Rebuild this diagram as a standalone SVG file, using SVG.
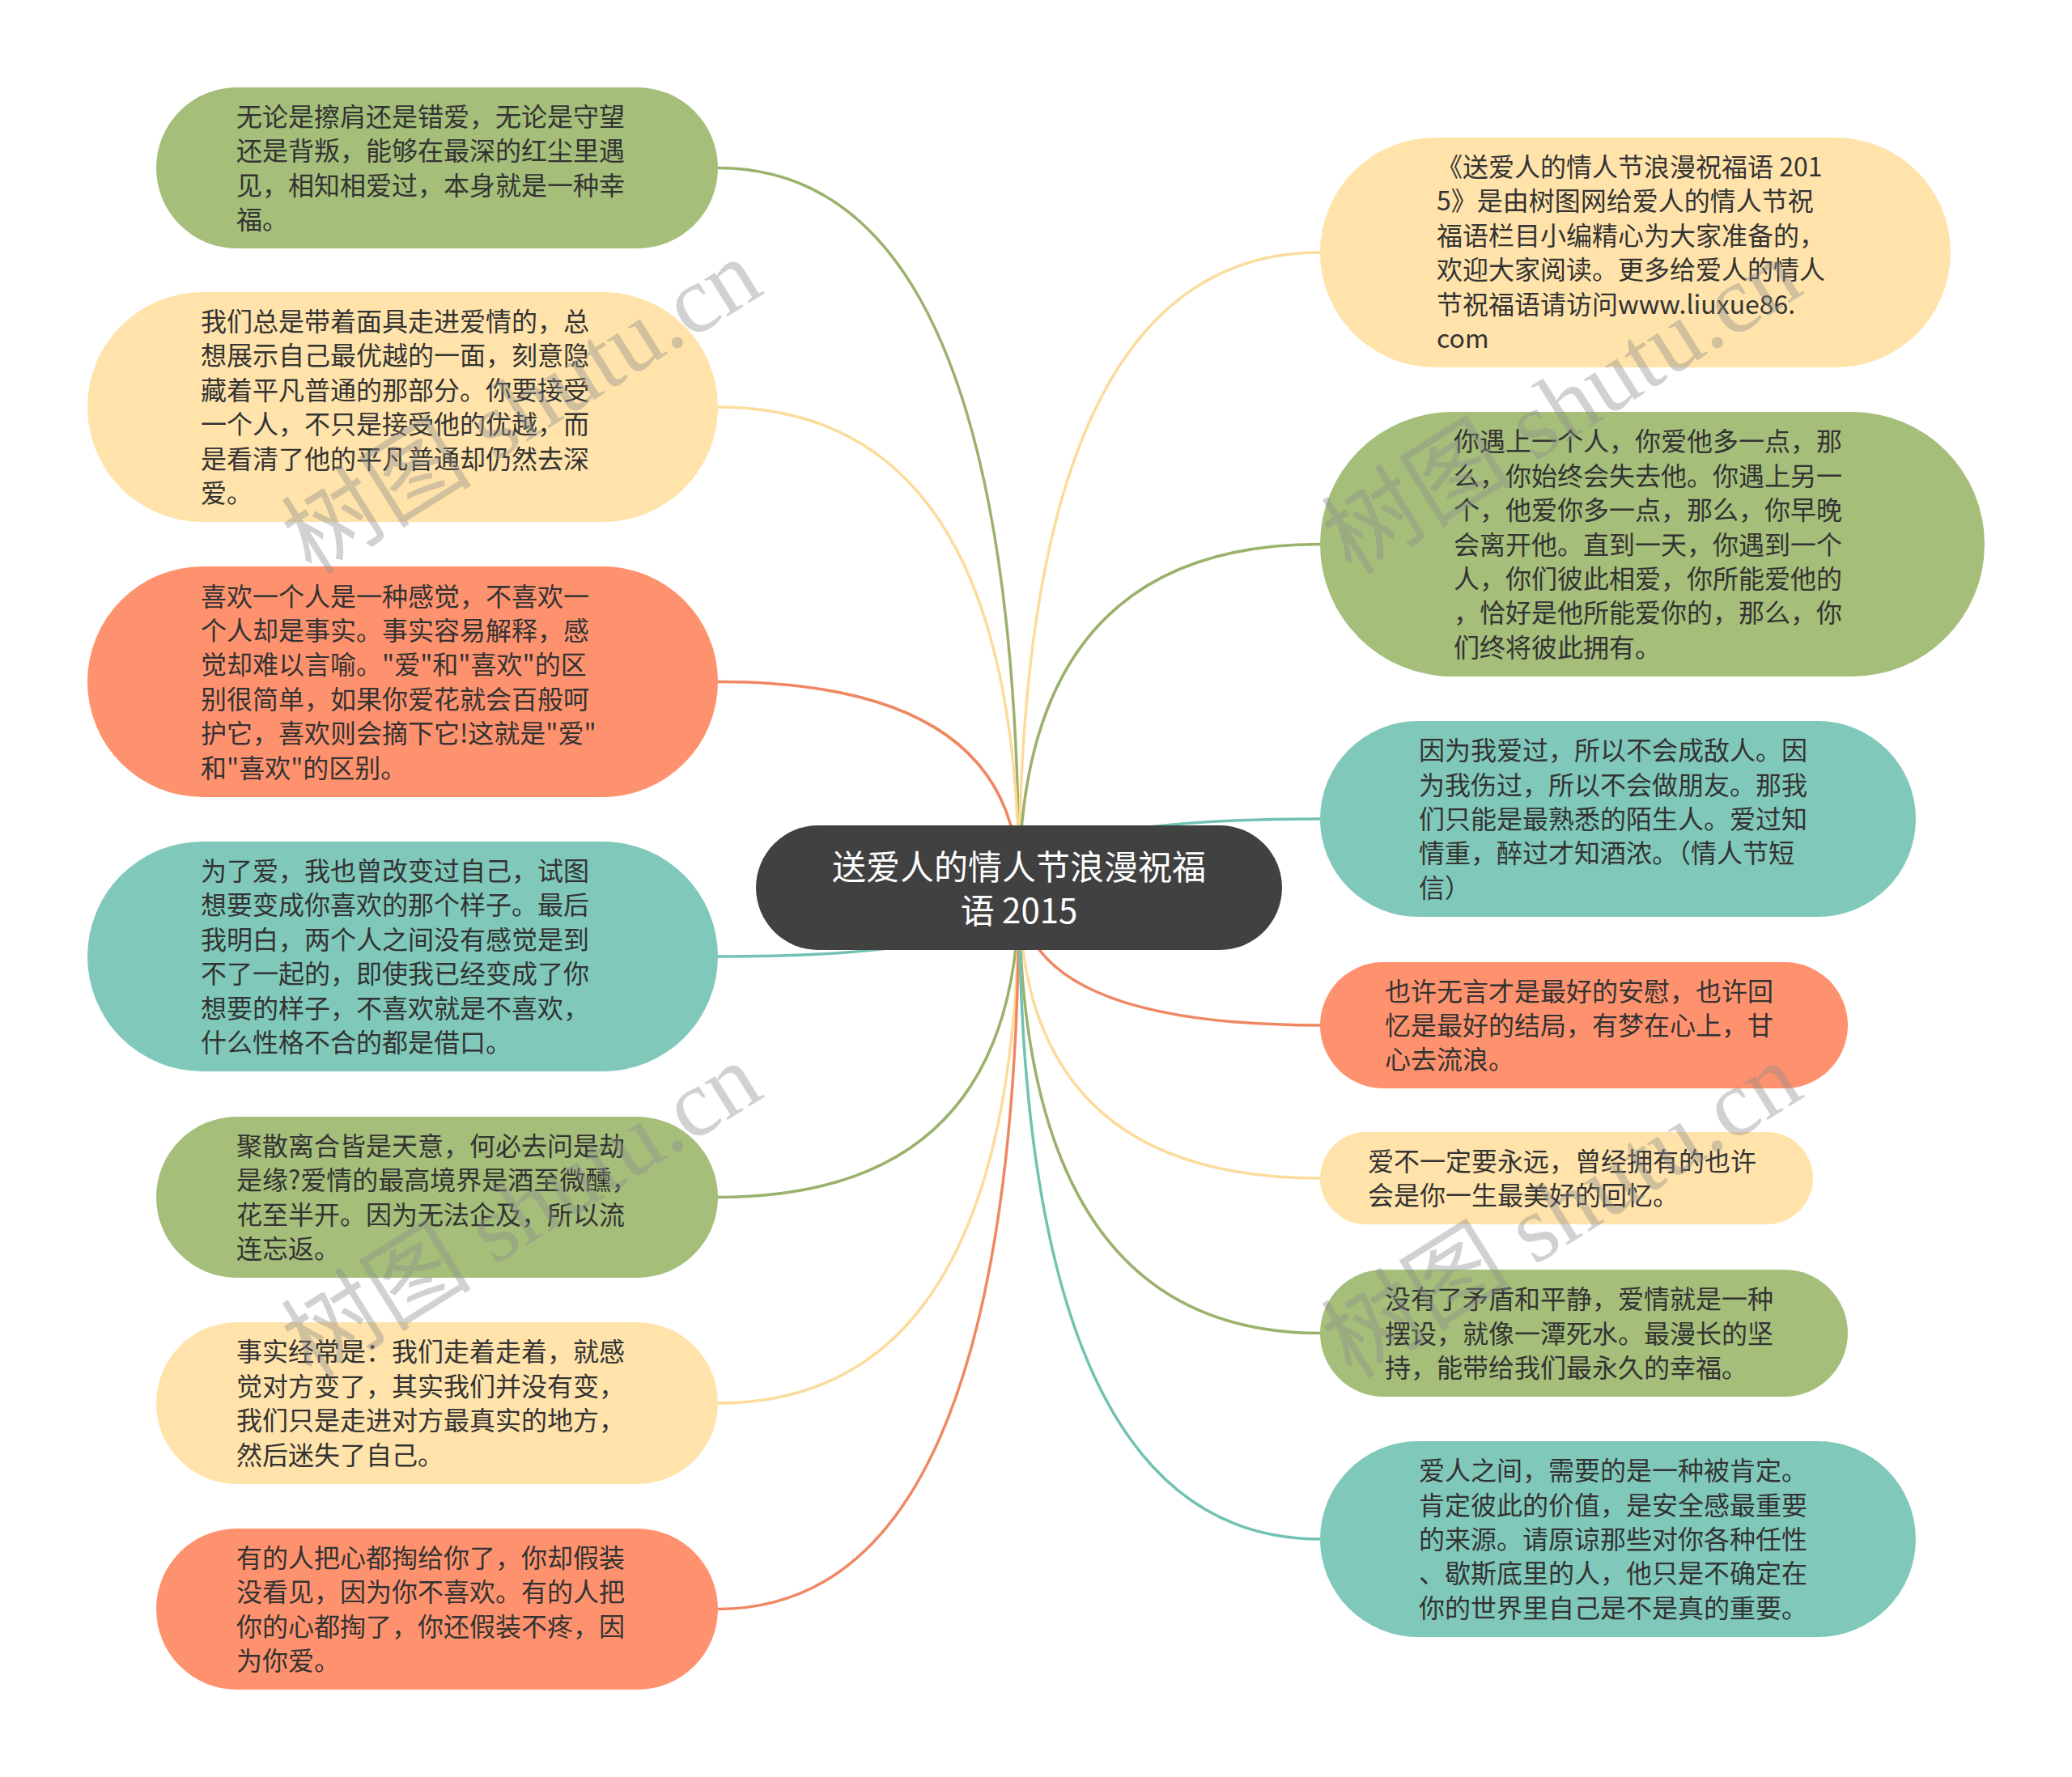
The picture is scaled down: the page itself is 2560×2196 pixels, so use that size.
<svg xmlns="http://www.w3.org/2000/svg" width="2560" height="2196" viewBox="0 0 2560 2196">
<style>
.t{font-family:"Noto Sans CJK SC","Noto Sans",sans-serif;font-size:32px;fill:#333333}
.ct{font-family:"Noto Sans CJK SC","Noto Sans",sans-serif;font-size:42px;fill:#ffffff}
.c{fill:none;stroke-width:3.5;stroke-linecap:round}
.g{fill:#A5BE7A}.y{fill:#FFE3AA}.s{fill:#FF926E}.q{fill:#80C9BA}
.cg{stroke:#9AB26C}.cy{stroke:#FBDC9C}.cs{stroke:#EF8862}.cq{stroke:#72C2B3}
.wm{font-family:"Liberation Serif","Noto Sans CJK SC",serif;font-size:118px;fill:#8c8c8c;fill-opacity:0.4}
</style>
<rect width="2560" height="2196" fill="#ffffff"/>
<g id="connectors">
<path class="c cg" d="M1259 1097 Q1259 207.5 887 207.5"/>
<path class="c cy" d="M1259 1097 Q1259 503 887 503"/>
<path class="c cs" d="M1259 1097 Q1259 842.5 887 842.5"/>
<path class="c cq" d="M1259 1097 Q1259 1182 887 1182"/>
<path class="c cg" d="M1259 1097 Q1259 1479.5 887 1479.5"/>
<path class="c cy" d="M1259 1097 Q1259 1734 887 1734"/>
<path class="c cs" d="M1259 1097 Q1259 1988.5 887 1988.5"/>
<path class="c cy" d="M1259 1097 Q1259 312 1631 312"/>
<path class="c cg" d="M1259 1097 Q1259 672.5 1631 672.5"/>
<path class="c cq" d="M1259 1097 Q1259 1012 1631 1012"/>
<path class="c cs" d="M1259 1097 Q1259 1267 1631 1267"/>
<path class="c cy" d="M1259 1097 Q1259 1456 1631 1456"/>
<path class="c cg" d="M1259 1097 Q1259 1647.5 1631 1647.5"/>
<path class="c cq" d="M1259 1097 Q1259 1902 1631 1902"/>
</g>
<g id="center">
<rect x="934" y="1020" width="650" height="154" rx="77" fill="#414141"/>
<text class="ct" text-anchor="middle"><tspan x="1259" y="1087">送爱人的情人节浪漫祝福</tspan><tspan x="1259" y="1141">语 2015</tspan></text>
</g>
<g id="L1">
<rect class="g" x="193" y="108" width="694" height="199" rx="99.5"/>
<text class="t"><tspan x="292" y="156">无论是擦肩还是错爱，无论是守望</tspan><tspan x="292" dy="42.4">还是背叛，能够在最深的红尘里遇</tspan><tspan x="292" dy="42.4">见，相知相爱过，本身就是一种幸</tspan><tspan x="292" dy="42.4">福。</tspan></text>
</g>
<g id="L2">
<rect class="y" x="108" y="361" width="779" height="284" rx="142"/>
<text class="t"><tspan x="248" y="409">我们总是带着面具走进爱情的，总</tspan><tspan x="248" dy="42.4">想展示自己最优越的一面，刻意隐</tspan><tspan x="248" dy="42.4">藏着平凡普通的那部分。你要接受</tspan><tspan x="248" dy="42.4">一个人，不只是接受他的优越，而</tspan><tspan x="248" dy="42.4">是看清了他的平凡普通却仍然去深</tspan><tspan x="248" dy="42.4">爱。</tspan></text>
</g>
<g id="L3">
<rect class="s" x="108" y="700" width="779" height="285" rx="142.5"/>
<text class="t"><tspan x="248" y="748.5">喜欢一个人是一种感觉，不喜欢一</tspan><tspan x="248" dy="42.4">个人却是事实。事实容易解释，感</tspan><tspan x="248" dy="42.4">觉却难以言喻。"爱"和"喜欢"的区</tspan><tspan x="248" dy="42.4">别很简单，如果你爱花就会百般呵</tspan><tspan x="248" dy="42.4">护它，喜欢则会摘下它!这就是"爱"</tspan><tspan x="248" dy="42.4">和"喜欢"的区别。</tspan></text>
</g>
<g id="L4">
<rect class="q" x="108" y="1040" width="779" height="284" rx="142"/>
<text class="t"><tspan x="248" y="1088">为了爱，我也曾改变过自己，试图</tspan><tspan x="248" dy="42.4">想要变成你喜欢的那个样子。最后</tspan><tspan x="248" dy="42.4">我明白，两个人之间没有感觉是到</tspan><tspan x="248" dy="42.4">不了一起的，即使我已经变成了你</tspan><tspan x="248" dy="42.4">想要的样子，不喜欢就是不喜欢，</tspan><tspan x="248" dy="42.4">什么性格不合的都是借口。</tspan></text>
</g>
<g id="L5">
<rect class="g" x="193" y="1380" width="694" height="199" rx="99.5"/>
<text class="t"><tspan x="292" y="1428">聚散离合皆是天意，何必去问是劫</tspan><tspan x="292" dy="42.4">是缘?爱情的最高境界是酒至微醺，</tspan><tspan x="292" dy="42.4">花至半开。因为无法企及，所以流</tspan><tspan x="292" dy="42.4">连忘返。</tspan></text>
</g>
<g id="L6">
<rect class="y" x="193" y="1634" width="694" height="200" rx="100"/>
<text class="t"><tspan x="292" y="1682.4">事实经常是：我们走着走着，就感</tspan><tspan x="292" dy="42.4">觉对方变了，其实我们并没有变，</tspan><tspan x="292" dy="42.4">我们只是走进对方最真实的地方，</tspan><tspan x="292" dy="42.4">然后迷失了自己。</tspan></text>
</g>
<g id="L7">
<rect class="s" x="193" y="1889" width="694" height="199" rx="99.5"/>
<text class="t"><tspan x="292" y="1937">有的人把心都掏给你了，你却假装</tspan><tspan x="292" dy="42.4">没看见，因为你不喜欢。有的人把</tspan><tspan x="292" dy="42.4">你的心都掏了，你还假装不疼，因</tspan><tspan x="292" dy="42.4">为你爱。</tspan></text>
</g>
<g id="R1">
<rect class="y" x="1631" y="170" width="779" height="284" rx="142"/>
<text class="t"><tspan x="1775" y="218">《送爱人的情人节浪漫祝福语 201</tspan><tspan x="1775" dy="42.4">5》是由树图网给爱人的情人节祝</tspan><tspan x="1775" dy="42.4">福语栏目小编精心为大家准备的，</tspan><tspan x="1775" dy="42.4">欢迎大家阅读。更多给爱人的情人</tspan><tspan x="1775" dy="42.4">节祝福语请访问www.liuxue86.</tspan><tspan x="1775" dy="42.4">com</tspan></text>
</g>
<g id="R2">
<rect class="g" x="1631" y="509" width="821" height="327" rx="163.5"/>
<text class="t"><tspan x="1796" y="557.3">你遇上一个人，你爱他多一点，那</tspan><tspan x="1796" dy="42.4">么，你始终会失去他。你遇上另一</tspan><tspan x="1796" dy="42.4">个，他爱你多一点，那么，你早晚</tspan><tspan x="1796" dy="42.4">会离开他。直到一天，你遇到一个</tspan><tspan x="1796" dy="42.4">人，你们彼此相爱，你所能爱他的</tspan><tspan x="1796" dy="42.4">，恰好是他所能爱你的，那么，你</tspan><tspan x="1796" dy="42.4">们终将彼此拥有。</tspan></text>
</g>
<g id="R3">
<rect class="q" x="1631" y="891" width="736" height="242" rx="121"/>
<text class="t"><tspan x="1753" y="939.2">因为我爱过，所以不会成敌人。因</tspan><tspan x="1753" dy="42.4">为我伤过，所以不会做朋友。那我</tspan><tspan x="1753" dy="42.4">们只能是最熟悉的陌生人。爱过知</tspan><tspan x="1753" dy="42.4">情重，醉过才知酒浓。（情人节短</tspan><tspan x="1753" dy="42.4">信）</tspan></text>
</g>
<g id="R4">
<rect class="s" x="1631" y="1189" width="652" height="156" rx="78"/>
<text class="t"><tspan x="1711" y="1236.6">也许无言才是最好的安慰，也许回</tspan><tspan x="1711" dy="42.4">忆是最好的结局，有梦在心上，甘</tspan><tspan x="1711" dy="42.4">心去流浪。</tspan></text>
</g>
<g id="R5">
<rect class="y" x="1631" y="1399" width="609" height="114" rx="57"/>
<text class="t"><tspan x="1690" y="1446.8">爱不一定要永远，曾经拥有的也许</tspan><tspan x="1690" dy="42.4">会是你一生最美好的回忆。</tspan></text>
</g>
<g id="R6">
<rect class="g" x="1631" y="1569" width="652" height="157" rx="78.5"/>
<text class="t"><tspan x="1711" y="1617.1">没有了矛盾和平静，爱情就是一种</tspan><tspan x="1711" dy="42.4">摆设，就像一潭死水。最漫长的坚</tspan><tspan x="1711" dy="42.4">持，能带给我们最永久的幸福。</tspan></text>
</g>
<g id="R7">
<rect class="q" x="1631" y="1781" width="736" height="242" rx="121"/>
<text class="t"><tspan x="1753" y="1829.2">爱人之间，需要的是一种被肯定。</tspan><tspan x="1753" dy="42.4">肯定彼此的价值，是安全感最重要</tspan><tspan x="1753" dy="42.4">的来源。请原谅那些对你各种任性</tspan><tspan x="1753" dy="42.4">、歇斯底里的人，他只是不确定在</tspan><tspan x="1753" dy="42.4">你的世界里自己是不是真的重要。</tspan></text>
</g>
<g id="watermark">
<text class="wm" transform="translate(385,712) rotate(-32)">树图 shutu.cn</text>
<text class="wm" transform="translate(385,1705) rotate(-32)">树图 shutu.cn</text>
<text class="wm" transform="translate(1670,712) rotate(-32)">树图 shutu.cn</text>
<text class="wm" transform="translate(1670,1705) rotate(-32)">树图 shutu.cn</text>
</g>
</svg>
